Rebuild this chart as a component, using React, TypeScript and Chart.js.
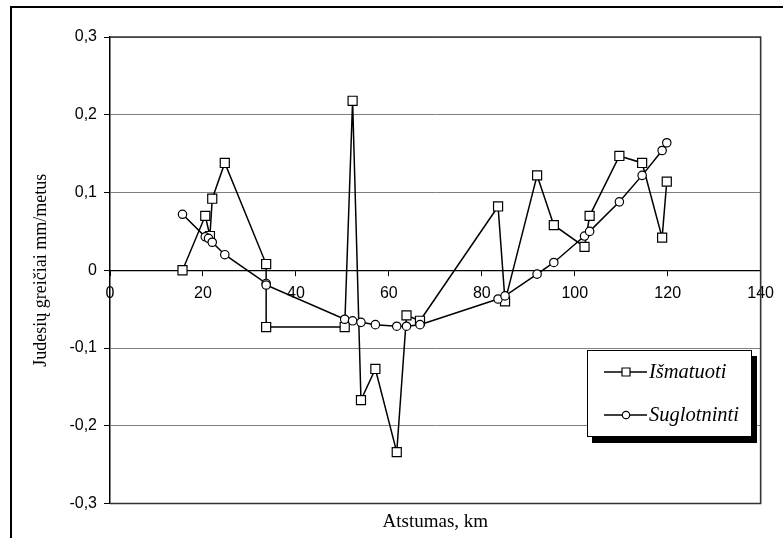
import React, { useEffect, useRef } from 'react';
import { Chart, registerables } from 'chart.js';

Chart.register(...registerables);

// Distance along profile, km (measured series)
const measuredX = [15.6, 20.5, 21.5, 22.0, 24.7, 33.6, 33.6, 50.5, 52.2, 54.0, 57.1, 61.7, 63.8, 66.7, 83.5, 85.0, 91.9, 95.5, 102.1, 103.2, 109.6, 114.5, 118.8, 119.8];
// Measured velocities, mm/year
const measuredY = [0.0, 0.07, 0.044, 0.092, 0.138, 0.008, -0.073, -0.073, 0.218, -0.167, -0.127, -0.234, -0.058, -0.065, 0.082, -0.04, 0.122, 0.058, 0.03, 0.07, 0.147, 0.138, 0.042, 0.114];

// Smoothed series
const smoothedX = [15.6, 20.5, 21.2, 22.0, 24.7, 33.6, 33.6, 50.5, 52.2, 54.0, 57.1, 61.7, 63.8, 66.7, 83.5, 85.0, 91.9, 95.5, 102.1, 103.2, 109.6, 114.5, 118.8, 119.8];
const smoothedY = [0.072, 0.043, 0.041, 0.036, 0.02, -0.017, -0.019, -0.063, -0.065, -0.067, -0.07, -0.072, -0.072, -0.07, -0.037, -0.033, -0.005, 0.01, 0.044, 0.05, 0.088, 0.122, 0.154, 0.164];

const seriesNames = ['Išmatuoti', 'Suglotninti'];
const xAxisTitle = 'Atstumas, km';
const yAxisTitle = 'Judesių greičiai mm/metus';
const xMin = 0;
const xMax = 140;
const xStep = 20;
const yMin = -0.3;
const yMax = 0.3;
const yStep = 0.1;

const SANS = '"Liberation Sans", Arial, sans-serif';
const SERIF = '"Liberation Serif", "Times New Roman", serif';

export default function App() {
  const ref = useRef<HTMLCanvasElement>(null);

  useEffect(() => {
    const canvas = ref.current;
    if (!canvas) return;

    const decor = {
      id: 'decor',
      beforeDraw(chart: any) {
        const { ctx, width, height } = chart;
        ctx.save();
        ctx.fillStyle = '#fff';
        ctx.fillRect(0, 0, width, height);
        ctx.restore();
      },
      beforeDatasetsDraw(chart: any) {
        const { ctx, chartArea } = chart;
        const { left, top, right, bottom } = chartArea;
        ctx.save();
        ctx.strokeStyle = '#333';
        ctx.lineWidth = 1.6;
        ctx.beginPath();
        ctx.moveTo(left, top);
        ctx.lineTo(right, top);
        ctx.lineTo(right, bottom);
        ctx.lineTo(left, bottom);
        ctx.stroke();
        ctx.restore();
      },
      afterDraw(chart: any) {
        const { ctx, chartArea, width, height } = chart;
        const { left, top, right, bottom } = chartArea;
        ctx.save();
        // outer frame (cropped)
        ctx.strokeStyle = '#000';
        ctx.lineWidth = 2;
        ctx.beginPath();
        ctx.moveTo(11, height);
        ctx.lineTo(11, 7);
        ctx.lineTo(width, 7);
        ctx.stroke();

        // axis titles
        ctx.fillStyle = '#000';
        ctx.textAlign = 'center';
        ctx.textBaseline = 'middle';
        ctx.font = `19px ${SERIF}`;
        ctx.fillText(xAxisTitle, (left + right) / 2, 522);
        ctx.save();
        ctx.font = `18px ${SERIF}`;
        ctx.translate(41, (top + bottom) / 2);
        ctx.rotate(-Math.PI / 2);
        ctx.fillText(yAxisTitle, 0, 0);
        ctx.restore();

        // legend
        const lx = 587, ly = 350, lw = 165, lh = 87;
        ctx.fillStyle = '#000';
        ctx.fillRect(lx + 5, ly + 6, lw, lh);
        ctx.fillStyle = '#fff';
        ctx.fillRect(lx, ly, lw, lh);
        ctx.strokeStyle = '#000';
        ctx.lineWidth = 1;
        ctx.strokeRect(lx + 0.5, ly + 0.5, lw - 1, lh - 1);

        const rows = [372, 415];
        ctx.font = `italic 20.5px ${SERIF}`;
        ctx.textAlign = 'left';
        ctx.textBaseline = 'middle';
        rows.forEach((yy, i) => {
          ctx.strokeStyle = '#000';
          ctx.lineWidth = 1.3;
          ctx.beginPath();
          ctx.moveTo(604, yy);
          ctx.lineTo(647, yy);
          ctx.stroke();
          ctx.fillStyle = '#fff';
          ctx.lineWidth = 1.2;
          ctx.beginPath();
          if (i === 0) {
            ctx.rect(622, yy - 4, 8, 8);
          } else {
            ctx.arc(626, yy, 3.7, 0, Math.PI * 2);
          }
          ctx.fill();
          ctx.stroke();
          ctx.fillStyle = '#000';
          ctx.fillText(seriesNames[i], 649, yy + 1);
        });
        ctx.restore();
      },
    };

    const chart = new Chart(canvas, {
      type: 'scatter',
      data: {
        datasets: [
          {
            label: seriesNames[1],
            data: smoothedX.map((x, i) => ({ x, y: smoothedY[i] })),
            showLine: true,
            borderColor: '#000',
            borderWidth: 1.5,
            pointStyle: 'circle',
            pointRadius: 4.2,
            pointBackgroundColor: '#fff',
            pointBorderColor: '#000',
            pointBorderWidth: 1.2,
          },
          {
            label: seriesNames[0],
            data: measuredX.map((x, i) => ({ x, y: measuredY[i] })),
            showLine: true,
            borderColor: '#000',
            borderWidth: 1.5,
            pointStyle: 'rect',
            pointRadius: 6.4,
            pointBackgroundColor: '#fff',
            pointBorderColor: '#000',
            pointBorderWidth: 1.2,
          },
        ],
      },
      options: {
        animation: false,
        responsive: false,
        maintainAspectRatio: false,
        events: [],
        layout: { padding: { left: 8, top: 37, right: 16, bottom: 34.5 } },
        plugins: {
          legend: { display: false },
          tooltip: { enabled: false },
          title: { display: false },
        },
        scales: {
          x: {
            type: 'linear',
            position: { y: 0 } as any,
            min: xMin,
            max: xMax,
            ticks: {
              stepSize: xStep,
              color: '#000',
              font: { family: SANS, size: 16 },
              padding: 9,
              maxRotation: 0,
            },
            grid: {
              drawOnChartArea: false,
              drawTicks: true,
              tickLength: 5,
              tickColor: '#000',
              tickWidth: 1,
            },
            border: { color: '#000', width: 1.2 },
            afterFit: (s: any) => { s.height = 0; },
          },
          y: {
            type: 'linear',
            position: 'left',
            min: yMin,
            max: yMax,
            ticks: {
              stepSize: yStep,
              color: '#000',
              font: { family: SANS, size: 16 },
              padding: 7,
              callback: (v: any) => {
                const r = Math.round(Number(v) * 10) / 10;
                return r === 0 ? '0' : String(r).replace('.', ',');
              },
            },
            grid: {
              color: '#7f7f7f',
              lineWidth: 1,
              drawTicks: true,
              tickLength: 6,
              tickColor: '#000',
            },
            border: { color: '#000', width: 1.5 },
            afterFit: (s: any) => { s.width = 102; },
          },
        },
      },
      plugins: [decor],
    });

    return () => chart.destroy();
  }, []);

  return (
    <div style={{ position: 'fixed', left: 0, top: 0, width: 783, height: 538, background: '#fff' }}>
      <canvas ref={ref} width={783} height={538} style={{ display: 'block', width: 783, height: 538 }} />
    </div>
  );
}
